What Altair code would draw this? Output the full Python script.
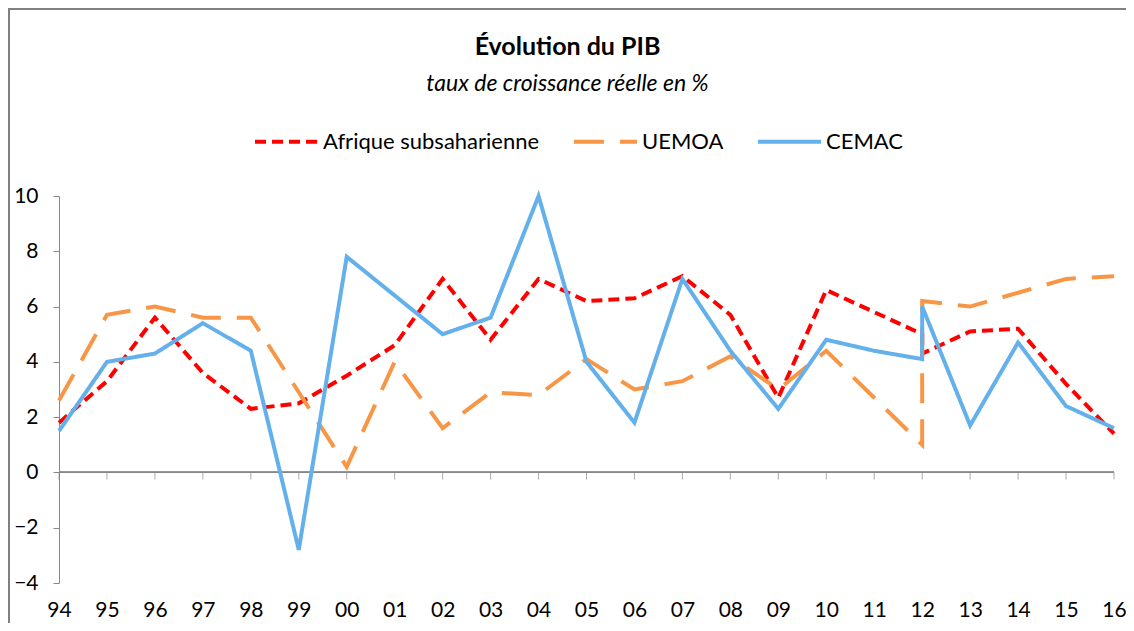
import altair as alt
import pandas as pd

# Years (2012 appears twice: series break with a jump at that year)
years = [1994, 1995, 1996, 1997, 1998, 1999, 2000, 2001, 2002, 2003, 2004, 2005,
         2006, 2007, 2008, 2009, 2010, 2011, 2012, 2012, 2013, 2014, 2015, 2016]
tick_years = list(range(1994, 2017))

afrique = [1.8, 3.3, 5.6, 3.6, 2.3, 2.5, 3.5, 4.6, 7.0, 4.8, 7.0, 6.2,
           6.3, 7.1, 5.7, 2.7, 6.6, 5.8, 5.0, 4.3, 5.1, 5.2, 3.2, 1.4]
uemoa = [2.6, 5.7, 6.0, 5.6, 5.6, 2.9, 0.2, 4.0, 1.6, 2.9, 2.8, 4.1,
         3.0, 3.3, 4.2, 3.0, 4.4, 2.7, 1.0, 6.2, 6.0, 6.5, 7.0, 7.1]
cemac = [1.5, 4.0, 4.3, 5.4, 4.4, -2.8, 7.8, 6.4, 5.0, 5.6, 10.0, 4.0,
         1.8, 7.0, 4.4, 2.3, 4.8, 4.4, 4.1, 6.0, 1.7, 4.7, 2.4, 1.6]

series_names = ["Afrique subsaharienne", "UEMOA", "CEMAC"]
series_values = [afrique, uemoa, cemac]
colors = ["#FF0000", "#F79646", "#63B0EA"]
dashes = [[11, 6], [30, 16], [1, 0]]

rows = []
for name, vals in zip(series_names, series_values):
    for i, (yr, v) in enumerate(zip(years, vals)):
        rows.append({"serie": name, "annee": yr, "valeur": v, "ordre": i})
df = pd.DataFrame(rows)
ticks_df = pd.DataFrame({"annee": tick_years})

FONT = "Lato"

x_scale = alt.Scale(domain=[1994, 2016], nice=False, zero=False)
y_scale = alt.Scale(domain=[-4, 10], nice=False)

lines = alt.Chart(df).mark_line(strokeWidth=4).encode(
    x=alt.X("annee:Q", scale=x_scale,
            axis=alt.Axis(values=tick_years, title=None, domain=False, ticks=False,
                          grid=False, labelFontSize=21, labelColor="#000000",
                          labelPadding=16, labelFont=FONT, labelFlush=False,
                          labelExpr="substring(toString(datum.value), 2)")),
    y=alt.Y("valeur:Q", scale=y_scale,
            axis=alt.Axis(values=[-4, -2, 0, 2, 4, 6, 8, 10], title=None, grid=False,
                          domainColor="#888888", tickColor="#888888", tickSize=6,
                          labelFontSize=21, labelColor="#000000", labelPadding=15,
                          labelFont=FONT, labelFlush=False)),
    color=alt.Color("serie:N",
                    scale=alt.Scale(domain=series_names, range=colors),
                    legend=alt.Legend(title=None, orient="none", direction="horizontal",
                                      legendX=194, legendY=-88,
                                      symbolType="stroke", symbolSize=3969,
                                      symbolStrokeWidth=4, labelFontSize=22,
                                      labelFont=FONT, labelColor="#000000",
                                      labelLimit=400,
                                      columnPadding=26, labelOffset=3)),
    strokeDash=alt.StrokeDash("serie:N",
                              scale=alt.Scale(domain=series_names, range=dashes),
                              legend=None),
    order=alt.Order("ordre:Q"),
    detail="serie:N",
)

zero_line = alt.Chart(ticks_df).mark_rule(color="#888888", strokeWidth=1).encode(
    y=alt.datum(0, scale=y_scale)
)

zero_ticks = alt.Chart(ticks_df).mark_tick(
    orient="vertical", color="#888888", thickness=1, size=7, yOffset=3.5
).encode(
    x=alt.X("annee:Q", scale=x_scale),
    y=alt.datum(0, scale=y_scale),
)

# chart-area frame (top and left edges, as in the reference)
frame_top = alt.Chart(ticks_df).mark_rule(color="#808080", strokeWidth=2).encode(
    x=alt.value(-51), x2=alt.value(1070), y=alt.value(-187)
)
frame_left = alt.Chart(ticks_df).mark_rule(color="#808080", strokeWidth=2).encode(
    x=alt.value(-50), y=alt.value(-188), y2=alt.value(430)
)

chart = alt.layer(frame_top, frame_left, zero_line, zero_ticks, lines).properties(
    width=1055,
    height=387,
    title=alt.TitleParams(
        text="Évolution du PIB",
        subtitle="taux de croissance réelle en %",
        font=FONT, fontSize=25, fontWeight="bold", color="#000000",
        subtitleFont=FONT, subtitleFontSize=23, subtitleFontStyle="italic",
        subtitleColor="#000000", subtitlePadding=13,
        anchor="middle", dx=-19, offset=-89,
    ),
    padding={"left": 51, "top": 188, "right": 12, "bottom": 40},
    autosize=alt.AutoSizeParams(type="none"),
).configure_view(stroke=None)

chart.save("out.html", embed_options={"renderer": "svg", "actions": False})
